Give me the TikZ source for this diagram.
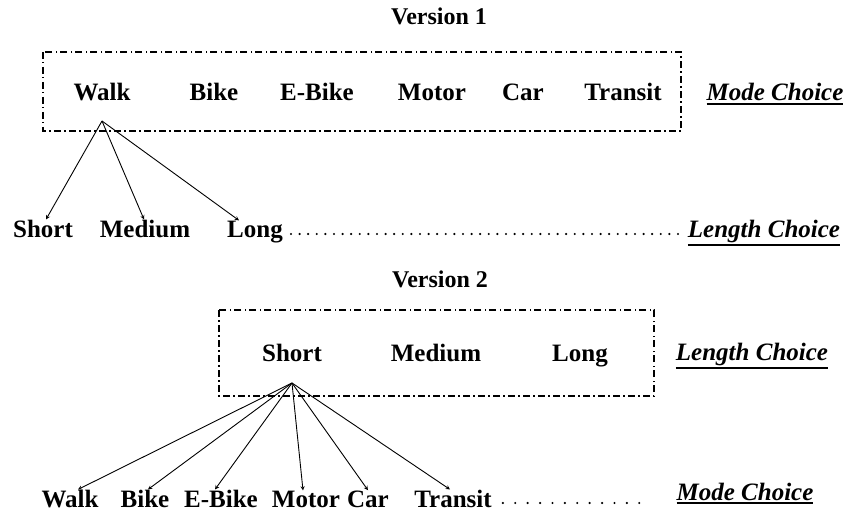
\documentclass[tikz,border=0pt]{standalone}
\usepackage{fontspec}
\setmainfont{Liberation Serif}
\usetikzlibrary{arrows,positioning}
\newcommand\thickul[1]{\leavevmode\vtop{\hbox{#1}\kern1.6pt\hrule height 1.8pt}}

\begin{document}
\begin{tikzpicture}[x=1pt, y=-1pt,
    lbl/.style={font=\fontsize{25}{30}\selectfont\bfseries, inner sep=0pt, anchor=base},
    title/.style={font=\fontsize{24}{28}\selectfont\bfseries, inner sep=0pt, anchor=base},
    level/.style={font=\fontsize{25}{30}\selectfont\bfseries\itshape, inner sep=0pt, anchor=base},
    frame/.style={line width=1.2pt, dash pattern=on 7pt off 3pt on 1.5pt off 3.5pt},
    branch/.style={->, >=stealth, line width=0.9pt},
    leader/.style={line width=2.4pt, line cap=round}]
    \useasboundingbox (0,0) rectangle (851,513);

    % Version 1: mode first, then length
    \node[title] (ver1) at (439,25) {Version 1};
    \draw[frame] (43,52) rectangle (681,131);
    \foreach \name/\x/\txt in {walkA/102/Walk, bikeA/214/Bike, ebikeA/317/E-Bike,
                               motorA/432/Motor, carA/523/Car, transitA/623/Transit}
        \node[lbl] (\name) at (\x,101) {\txt};
    \node[level] (modeA) at (775,101) {\thickul{Mode Choice}};

    \coordinate (fanA) at (102,121);
    \node[lbl] (shortA) at (43,237) {Short};
    \node[lbl] (mediumA) at (145,237) {Medium};
    \node[lbl] (longA) at (255,237) {Long};
    \node[level] (lengthA) at (764,237) {\thickul{Length Choice}};

    \draw[branch] (fanA) -- ([xshift=3pt]shortA.north);
    \draw[branch] (fanA) -- ([xshift=-1pt]mediumA.north);
    \draw[branch] (fanA) -- ([xshift=-16pt]longA.north);
    \draw[leader, dash pattern=on 0pt off 8.6pt] ([xshift=8pt,yshift=3pt]longA.base east) -- ([xshift=-8pt,yshift=3pt]lengthA.base west);

    % Version 2: length first, then mode
    \node[title] (ver2) at (440,287) {Version 2};
    \draw[frame] (219,310) rectangle (654,396);
    \node[lbl] (shortB) at (292,361) {Short};
    \node[lbl] (mediumB) at (436,361) {Medium};
    \node[lbl] (longB) at (580,361) {Long};
    \node[level] (lengthB) at (752,360) {\thickul{Length Choice}};

    \coordinate (fanB) at (292,383);
    \foreach \name/\x/\dx/\txt in {walkB/70/8/Walk, bikeB/145/3/Bike, ebikeB/221/-6/E-Bike,
                                   motorB/306/-3/Motor, carB/368/0/Car, transitB/453/-3/Transit} {
        \node[lbl] (\name) at (\x,507) {\txt};
        \draw[branch] (fanB) -- ([xshift=\dx pt]\name.north);
    }
    \node[level] (modeB) at (745,500) {\thickul{Mode Choice}};
    \draw[leader, dash pattern=on 0pt off 12.4pt] ([xshift=11pt,yshift=4pt]transitB.base east) -- ([xshift=-27pt,yshift=-3pt]modeB.base west);
\end{tikzpicture}
\end{document}
